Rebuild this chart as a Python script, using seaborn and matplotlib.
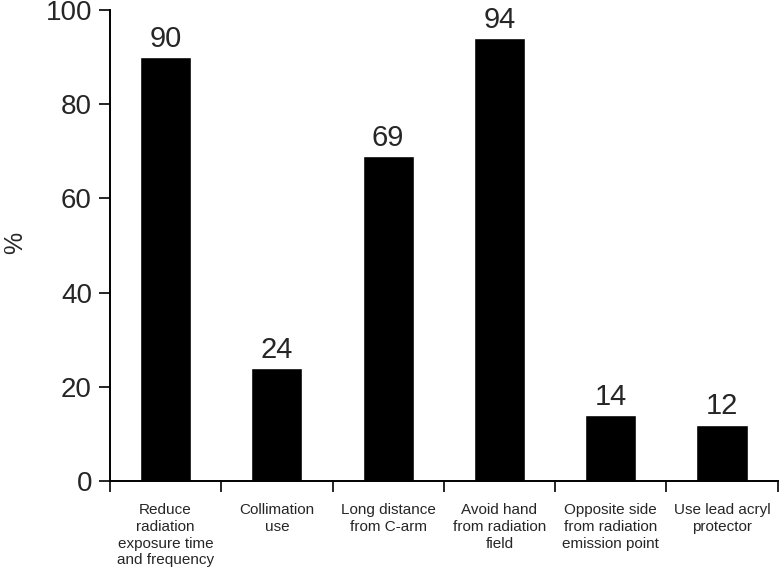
import seaborn as sns
import matplotlib.pyplot as plt
import pandas as pd

categories = [
    "Reduce\nradiation\nexposure time\nand frequency",
    "Collimation\nuse",
    "Long distance\nfrom C-arm",
    "Avoid hand\nfrom radiation\nfield",
    "Opposite side\nfrom radiation\nemission point",
    "Use lead acryl\nprotector",
]
values = [90, 24, 69, 94, 14, 12]

df = pd.DataFrame({"category": categories, "percent": values})

sns.set_style("white")
plt.rcParams["font.family"] = ["Liberation Sans", "DejaVu Sans"]

fig = plt.figure(figsize=(7.8, 5.7), dpi=100)
ax = fig.add_axes([0.141, 0.1561, 0.856, 0.8263])

sns.barplot(data=df, x="category", y="percent", color="black", width=0.46,
            saturation=1, ax=ax)
for c in ax.containers:
    ax.bar_label(c, fmt="%d", padding=3, fontsize=21)

ax.set_xlim(-0.5, len(categories) - 0.5)
ax.set_ylim(0, 100)
ax.set_yticks(range(0, 101, 20))
ax.tick_params(axis="y", labelsize=20, length=8, width=1.4, direction="out", left=True, pad=5)

# category boundaries as major ticks, names on minor ticks
ax.set_xticks([i - 0.5 for i in range(len(categories) + 1)])
ax.set_xticklabels([])
ax.set_xticks(range(len(categories)), minor=True)
ax.set_xticklabels(categories, minor=True, fontsize=11, linespacing=1.25)
ax.tick_params(axis="x", which="major", length=8, width=1.4, direction="out", bottom=True)
ax.tick_params(axis="x", which="minor", length=0, pad=16)

ax.set_xlabel("")
ax.set_ylabel("%", fontsize=18)
ax.yaxis.set_label_coords(-0.124, 0.505)

sns.despine(ax=ax)
for s in ("left", "bottom"):
    ax.spines[s].set_linewidth(1.4)
    ax.spines[s].set_color("black")

fig.savefig("out.png", dpi=100)
